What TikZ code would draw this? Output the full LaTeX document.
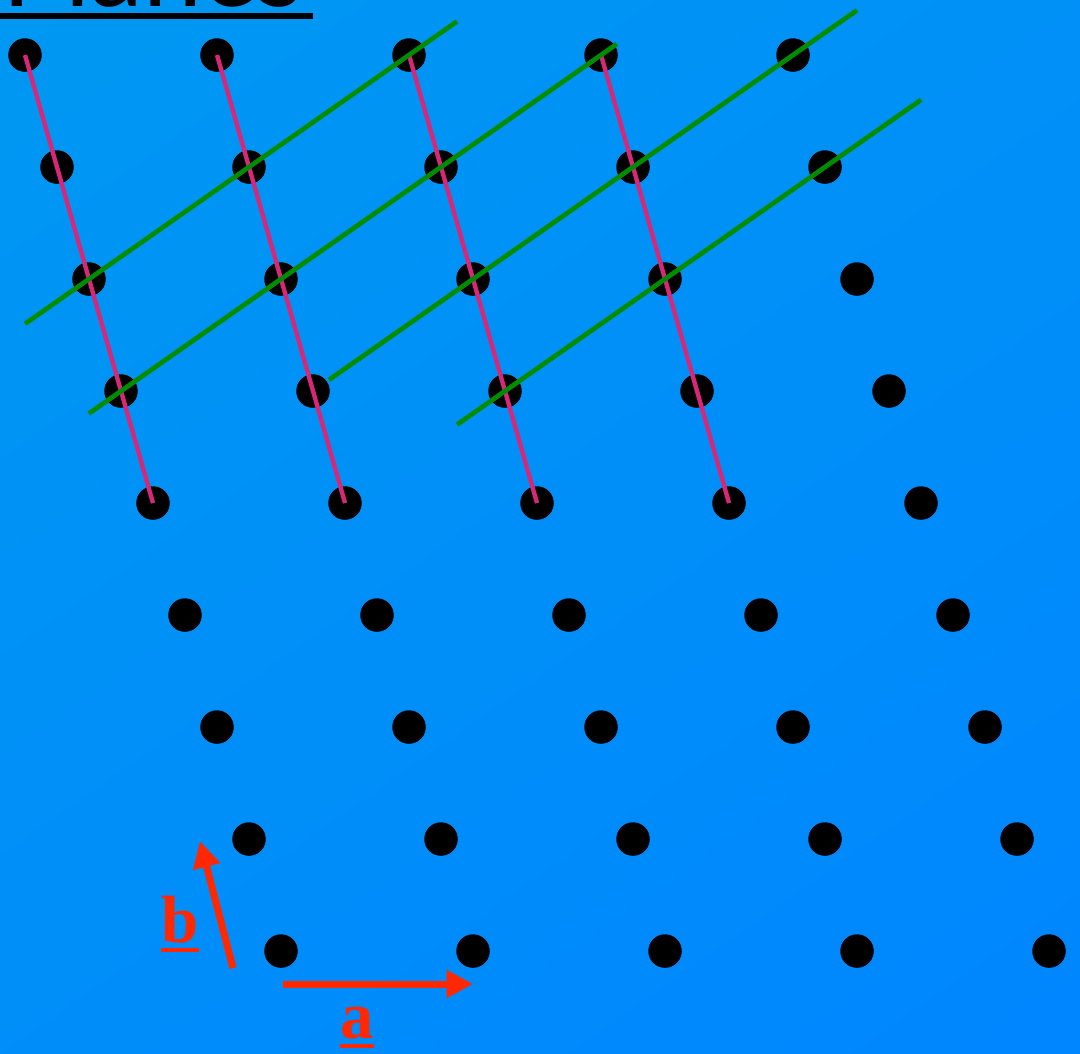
\documentclass[tikz,border=0pt]{standalone}
\usepackage{fontspec}
\setmainfont{Liberation Serif}
\newfontfamily\titlefont{Lato}
\usetikzlibrary{calc,arrows.meta}
\definecolor{bgtl}{RGB}{0,152,242}
\definecolor{bgbr}{RGB}{0,134,255}
\definecolor{planemag}{RGB}{214,40,120}
\definecolor{planegrn}{RGB}{0,140,0}
\definecolor{vecred}{RGB}{255,40,0}
\newcommand\vecul[1]{\leavevmode\vtop{\hbox{#1}\kern1.6pt\hrule height 1.1pt}}
\tikzset{
  latdot/.style={circle,fill=black,inner sep=0pt,minimum size=0.335cm},
  magline/.style={draw=planemag,line width=1.25pt},
  grnline/.style={draw=planegrn,line width=1.35pt},
  vecarrow/.style={draw=vecred,line width=2pt,-{Triangle[length=7.5pt,width=7.5pt]}},
  veclabel/.style={text=vecred,font=\fontsize{19}{19}\selectfont\bfseries,inner sep=0pt}
}
\begin{document}
\begin{tikzpicture}[x=0.01cm,y=-0.01cm]
\useasboundingbox (0,0) rectangle (1080,1053);
\clip (0,0) rectangle (1080,1053);
\shade[top color=bgtl,bottom color=bgbr,shading angle=35] (-200,-200) rectangle (1280,1253);
% title (cut off at top, as in the reference)
\node[anchor=base west,inner sep=0pt,font=\titlefont\fontsize{30}{30}\selectfont] (title) at (2,6) {Planes};
\draw[line width=1.5pt] (0,16) -- (313,16);
% lattice
\foreach \r in {0,...,8}{
  \foreach \c in {0,...,4}{
    \node[latdot] (d-\r-\c) at ({25+32*\r+192*\c},{55+112*\r}) {};
  }
}
% magenta planes
\foreach \c in {0,...,3}{
  \draw[magline] (d-0-\c.center) -- (d-4-\c.center);
}
% green planes
\draw[grnline] ($(d-2-0.center)!-0.2!(d-0-2.center)$) -- ($(d-2-0.center)!1.15!(d-0-2.center)$);
\draw[grnline] ($(d-3-0.center)!-0.067!(d-0-3.center)$) -- ($(d-3-0.center)!1.033!(d-0-3.center)$);
\draw[grnline] ($(d-2-2.center)!-0.45!(d-0-4.center)$) -- ($(d-2-2.center)!1.2!(d-0-4.center)$);
\draw[grnline] ($(d-3-2.center)!-0.15!(d-1-4.center)$) -- ($(d-3-2.center)!1.3!(d-1-4.center)$);
% basis vectors
\coordinate (aS) at (283,984);
\coordinate (aE) at (473,984);
\coordinate (bS) at (233,968);
\coordinate (bE) at (200,841);
\draw[vecarrow] (aS) -- (aE);
\draw[vecarrow] (bS) -- (bE);
\node[veclabel,anchor=base] (alab) at (357,1038) {\vecul{a}};
\node[veclabel,anchor=base] (blab) at (180,942) {\vecul{b}};
\end{tikzpicture}
\end{document}
